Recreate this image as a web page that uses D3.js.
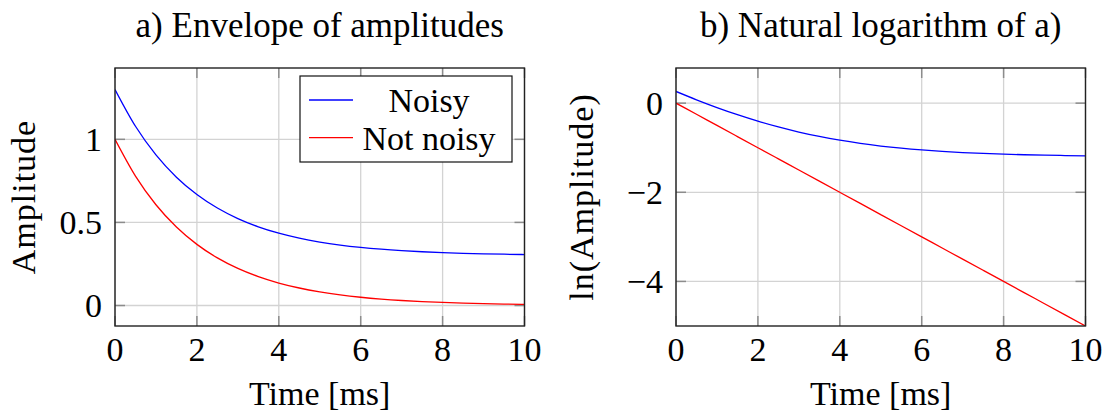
<!DOCTYPE html>
<html><head><meta charset="utf-8">
<script src="https://cdn.jsdelivr.net/npm/d3@7"></script>
<style>
body{margin:0;background:#fff;}
svg{display:block;}
text{font-family:"Liberation Serif","DejaVu Serif",serif;fill:#000;}
</style></head>
<body><svg id="c" width="1106" height="415"></svg>
<script>
const time = [0,0.5,1,1.5,2,2.5,3,3.5,4,4.5,5,5.5,6,6.5,7,7.5,8,8.5,9,9.5,10];
const noisy = [1.3,1.0788,0.9065,0.7724,0.6679,0.5865,0.5231,0.4738,0.4353,0.4054,0.3821,0.3639,0.3498,0.3388,0.3302,0.3235,0.3183,0.3143,0.3111,0.3087,0.3067];
const notNoisy = [1,0.7788,0.6065,0.4724,0.3679,0.2865,0.2231,0.1738,0.1353,0.1054,0.0821,0.0639,0.0498,0.0388,0.0302,0.0235,0.0183,0.0143,0.0111,0.0087,0.0067];
const lnNoisy = [0.2624,0.0758,-0.0982,-0.2582,-0.4036,-0.5336,-0.6480,-0.7470,-0.8317,-0.9029,-0.9621,-1.0109,-1.0504,-1.0823,-1.1081,-1.1286,-1.1448,-1.1575,-1.1677,-1.1754,-1.1819];
const lnNotNoisy = [0,-0.25,-0.5,-0.75,-1,-1.25,-1.5,-1.75,-2,-2.25,-2.5,-2.75,-3,-3.25,-3.5,-3.75,-4,-4.25,-4.5,-4.75,-5];
const xTicks = [0,2,4,6,8,10];
const yTicksA = [0,0.5,1];
const yTicksB = [-4,-2,0];
const seriesNames = ["Noisy","Not noisy"];
const seriesColors = ["#0000ff","#ff0000"];

const svg = d3.select("#c");
const FS = 34;
const fmt = d => (d<0 ? "\u2212"+Math.abs(d) : String(d));

function panel(o){
  const g = svg.append("g");
  const x = d3.scaleLinear().domain([0,10]).range([o.left,o.right]);
  const y = d3.scaleLinear().domain(o.ydom).range([o.bottom,o.top]);
  g.selectAll(".gx").data(xTicks).join("line")
    .attr("x1",d=>x(d)).attr("x2",d=>x(d)).attr("y1",o.top).attr("y2",o.bottom)
    .attr("stroke","#d3d3d3").attr("stroke-width",1.3);
  g.selectAll(".gy").data(o.yticks).join("line")
    .attr("x1",o.left).attr("x2",o.right).attr("y1",d=>y(d)).attr("y2",d=>y(d))
    .attr("stroke","#d3d3d3").attr("stroke-width",1.3);
  const TL = 10, tc = "#8c8c8c";
  xTicks.forEach(d=>{
    g.append("line").attr("x1",x(d)).attr("x2",x(d)).attr("y1",o.bottom).attr("y2",o.bottom-TL).attr("stroke",tc).attr("stroke-width",1.5);
    g.append("line").attr("x1",x(d)).attr("x2",x(d)).attr("y1",o.top).attr("y2",o.top+TL).attr("stroke",tc).attr("stroke-width",1.5);
  });
  o.yticks.forEach(d=>{
    g.append("line").attr("x1",o.left).attr("x2",o.left+TL).attr("y1",y(d)).attr("y2",y(d)).attr("stroke",tc).attr("stroke-width",1.5);
    g.append("line").attr("x1",o.right).attr("x2",o.right-TL).attr("y1",y(d)).attr("y2",y(d)).attr("stroke",tc).attr("stroke-width",1.5);
  });
  const clip = "clip"+o.id;
  svg.append("clipPath").attr("id",clip).append("rect")
    .attr("x",o.left).attr("y",o.top).attr("width",o.right-o.left).attr("height",o.bottom-o.top);
  const line = d3.line().x((d,i)=>x(time[i])).y(d=>y(d)).curve(d3.curveMonotoneX);
  o.series.forEach((s,k)=>{
    g.append("path").attr("d",line(s)).attr("fill","none")
      .attr("stroke",seriesColors[k]).attr("stroke-width",1.3).attr("clip-path","url(#"+clip+")");
  });
  g.append("rect").attr("x",o.left).attr("y",o.top).attr("width",o.right-o.left).attr("height",o.bottom-o.top)
    .attr("fill","none").attr("stroke","#222").attr("stroke-width",1.4);
  g.selectAll(".xl").data(xTicks).join("text")
    .attr("x",d=>x(d)).attr("y",361).attr("text-anchor","middle").attr("font-size",FS).text(d=>d);
  g.selectAll(".yl").data(o.yticks).join("text")
    .attr("x",o.left-13).attr("y",d=>y(d)).attr("dy","0.35em").attr("text-anchor","end").attr("font-size",FS).text(fmt);
  g.append("text").attr("x",(o.left+o.right)/2).attr("y",405).attr("text-anchor","middle").attr("font-size",FS).text("Time [ms]");
  g.append("text").attr("transform","translate("+o.ylabX+","+((o.top+o.bottom)/2)+") rotate(-90)")
    .attr("text-anchor","middle").attr("font-size",FS).attr("letter-spacing",1).text(o.ylabel);
  g.append("text").attr("x",(o.left+o.right)/2).attr("y",37).attr("text-anchor","middle").attr("font-size",35).text(o.title);
  return {x,y};
}

panel({id:"a",left:115,right:524.5,top:68,bottom:326,ydom:[-0.1233,1.4293],yticks:yTicksA,
  series:[noisy,notNoisy],ylabel:"Amplitude",ylabX:35,title:"a) Envelope of amplitudes"});
panel({id:"b",left:676,right:1085.5,top:68,bottom:326,ydom:[-5,0.7886],yticks:yTicksB,
  series:[lnNoisy,lnNotNoisy],ylabel:"ln(Amplitude)",ylabX:593,title:"b) Natural logarithm of a)"});

const lg = svg.append("g");
lg.append("rect").attr("x",300).attr("y",76).attr("width",212).attr("height",86)
  .attr("fill","#fff").attr("stroke","#111").attr("stroke-width",1.2);
seriesNames.forEach((n,i)=>{
  const cy = 100 + i*37.7;
  lg.append("line").attr("x1",309).attr("x2",353).attr("y1",cy).attr("y2",cy)
    .attr("stroke",seriesColors[i]).attr("stroke-width",1.3);
  lg.append("text").attr("x",429).attr("y",cy).attr("dy","0.35em").attr("text-anchor","middle")
    .attr("font-size",FS).text(n);
});
</script></body></html>
